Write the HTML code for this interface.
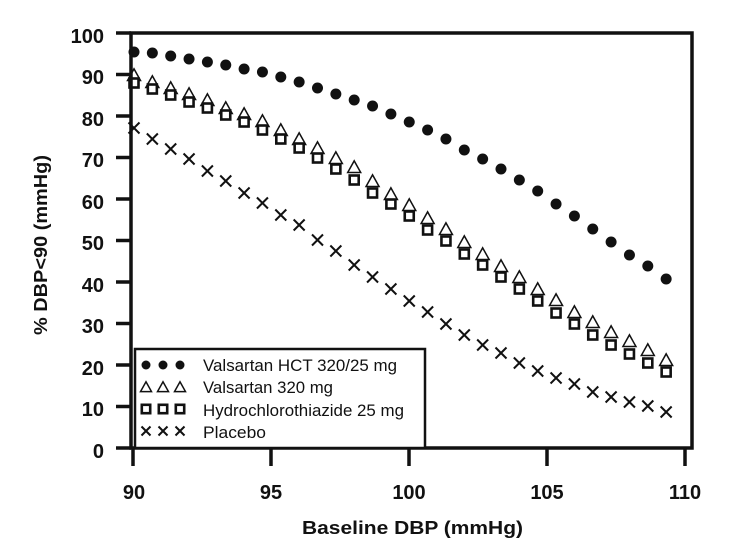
<!DOCTYPE html>
<html><head><meta charset="utf-8"><style>
body{margin:0;background:#fff;}
svg text{font-family:"Liberation Sans",Arial,sans-serif;fill:#111;}
</style></head><body>
<svg width="734" height="548" viewBox="0 0 734 548" xmlns="http://www.w3.org/2000/svg">
<g id="plot"></g>
<rect x="131" y="33" width="561" height="415" fill="none" stroke="#111" stroke-width="3.5"/>
<g stroke="#111" stroke-width="3.5">
<line x1="116" y1="33" x2="131" y2="33"/><line x1="116" y1="74.5" x2="131" y2="74.5"/><line x1="116" y1="116" x2="131" y2="116"/><line x1="116" y1="157.5" x2="131" y2="157.5"/><line x1="116" y1="199" x2="131" y2="199"/><line x1="116" y1="240.5" x2="131" y2="240.5"/><line x1="116" y1="282" x2="131" y2="282"/><line x1="116" y1="323.5" x2="131" y2="323.5"/><line x1="116" y1="365" x2="131" y2="365"/><line x1="116" y1="406.5" x2="131" y2="406.5"/><line x1="116" y1="448" x2="131" y2="448"/>
<line x1="133" y1="448" x2="133" y2="466"/><line x1="271" y1="448" x2="271" y2="466"/><line x1="409" y1="448" x2="409" y2="466"/><line x1="547" y1="448" x2="547" y2="466"/><line x1="685" y1="448" x2="685" y2="466"/>
</g>
<g font-size="20" font-weight="bold" text-anchor="end">
<text x="104" y="43">100</text><text x="104" y="84">90</text><text x="104" y="126">80</text><text x="104" y="167">70</text><text x="104" y="209">60</text><text x="104" y="250">50</text><text x="104" y="292">40</text><text x="104" y="333">30</text><text x="104" y="375">20</text><text x="104" y="416">10</text><text x="104" y="458">0</text>
</g>
<g font-size="20" font-weight="bold" text-anchor="middle">
<text x="134" y="499">90</text><text x="271" y="499">95</text><text x="409" y="499">100</text><text x="547" y="499">105</text><text x="685" y="499">110</text>
</g>
<g font-size="18" font-weight="bold">
<text x="302" y="534" textLength="221" lengthAdjust="spacingAndGlyphs">Baseline DBP (mmHg)</text>
<text transform="translate(47,335) rotate(-90)" textLength="180" lengthAdjust="spacingAndGlyphs">% DBP&lt;90 (mmHg)</text>
</g>
<rect x="135" y="349" width="290" height="99" fill="#fff" stroke="#111" stroke-width="2.5"/>
<g font-size="17">
<text x="203" y="371" textLength="194" lengthAdjust="spacingAndGlyphs">Valsartan HCT 320/25 mg</text>
<text x="203" y="393" textLength="130" lengthAdjust="spacingAndGlyphs">Valsartan 320 mg</text>
<text x="203" y="416" textLength="201" lengthAdjust="spacingAndGlyphs">Hydrochlorothiazide 25 mg</text>
<text x="203" y="438" textLength="63" lengthAdjust="spacingAndGlyphs">Placebo</text>
</g>
<g id="leg"></g>
</svg>
<script>
var NS="http://www.w3.org/2000/svg";
function el(p,t,a){var e=document.createElementNS(NS,t);for(var k in a)e.setAttribute(k,a[k]);p.appendChild(e);return e;}
var P=document.getElementById("plot"),L=document.getElementById("leg");
function circ(g,x,y,r){el(g,"circle",{cx:x,cy:y,r:r||5.5,fill:"#111"});}
function tri(g,x,y,s){s=s||6.5;el(g,"polygon",{points:(x-s)+","+(y+s*0.85)+" "+(x+s)+","+(y+s*0.85)+" "+x+","+(y-s*0.95),fill:"none",stroke:"#111","stroke-width":1.5});}
function sq(g,x,y,s){s=s||4.5;el(g,"rect",{x:x-s,y:y-s,width:2*s,height:2*s,fill:"#fff",stroke:"#111","stroke-width":2.6});}
function crs(g,x,y,s){s=s||5.5;el(g,"path",{d:"M"+(x-s)+" "+(y-s)+"L"+(x+s)+" "+(y+s)+"M"+(x+s)+" "+(y-s)+"L"+(x-s)+" "+(y+s),stroke:"#111","stroke-width":2,fill:"none"});}
var C=[52,53,56,59,62,65,69,72,77,82,88,94,100,106,114,122,130,139,150,159,169,180,191,204,216,229,242,255,266,279];
var T=[75,82,88,94,100,108,114,121,130,139,148,158,167,181,194,205,218,229,242,254,266,277,289,300,312,322,332,341,350,360];
var S=[83,89,95,102,108,115,122,130,139,148,158,169,180,193,204,216,230,241,254,265,277,289,301,313,324,335,345,354,363,372];
var X=[128,139,149,159,171,181,193,203,215,225,240,251,265,277,289,301,312,324,335,345,353,363,371,378,384,392,397,402,406,412];
for(var i=0;i<30;i++){var x=134+18.35*i;circ(P,x,C[i]);crs(P,x,X[i]);tri(P,x,T[i]);sq(P,x,S[i]);}
[146,163,180].forEach(function(x){circ(L,x,365,4.5);tri(L,x,387,5.5);sq(L,x,409,4.2);crs(L,x,431,4.5);});
</script>
</body></html>
